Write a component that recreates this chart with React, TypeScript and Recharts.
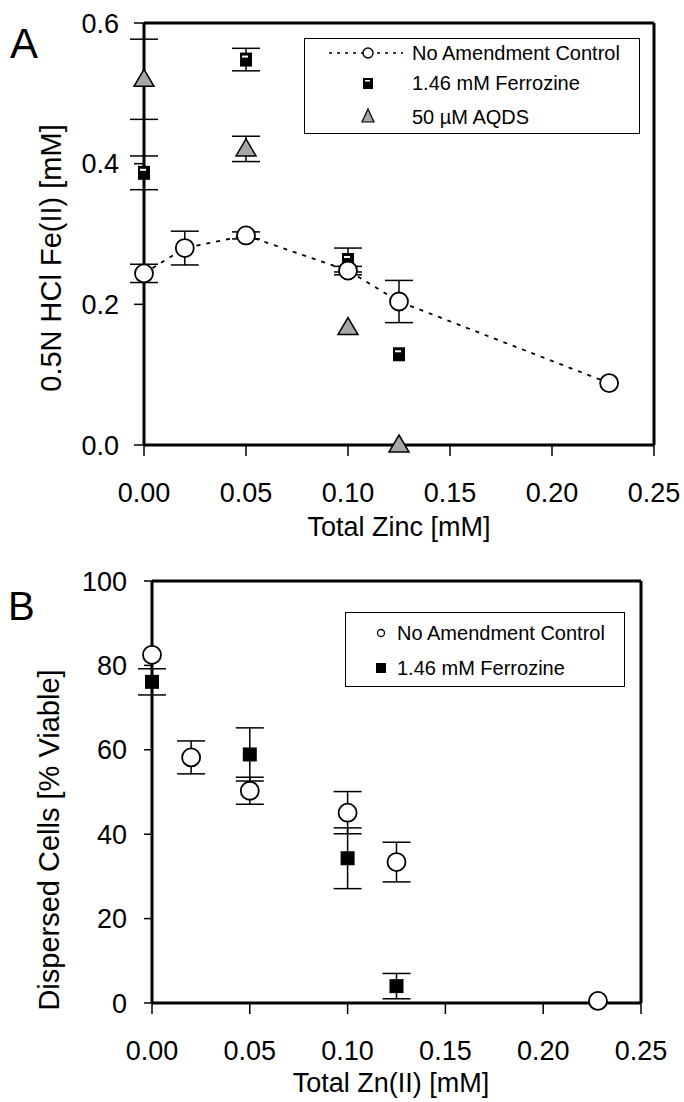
import { ScatterChart, Scatter, XAxis, YAxis, ErrorBar, ReferenceLine } from 'recharts';

// Panel A: 0.5N HCl extractable Fe(II) vs total zinc
const ctrlZnA = [0, 0.02, 0.05, 0.1, 0.125, 0.228];
const ctrlFeA = [0.244, 0.28, 0.298, 0.248, 0.204, 0.088];
const ctrlErrA = [0.013, 0.024, 0.005, 0.006, 0.03, 0];
const ferZnA = [0, 0.05, 0.1, 0.125];
const ferFeA = [0.387, 0.548, 0.263, 0.129];
const ferErrA = [0.024, 0.016, 0.017, 0];
const aqdsZnA = [0, 0.05, 0.1, 0.125];
const aqdsFeA = [0.52, 0.421, 0.167, 0.0];
const aqdsErrA = [0.057, 0.018, 0, 0];

// Panel B: dispersed cells (% viable) vs total Zn(II)
const ctrlZnB = [0, 0.02, 0.05, 0.1, 0.125, 0.228];
const ctrlPctB = [82.5, 58.2, 50.3, 45.1, 33.4, 0.5];
const ctrlErrB = [0, 3.9, 3.2, 5.0, 4.7, 0];
const ferZnB = [0, 0.05, 0.1, 0.125];
const ferPctB = [76.1, 58.9, 34.3, 4.0];
const ferErrB = [3.1, 6.3, 7.2, 3.0];

const xTicks = [0, 0.05, 0.1, 0.15, 0.2, 0.25];
const yTicksA = [0, 0.2, 0.4, 0.6];
const yTicksB = [0, 20, 40, 60, 80, 100];

const zip = (xs: number[], ys: number[], es: number[]) =>
  xs.map((x, i) => ({ x, y: ys[i], e: es[i] }));

const FONT = '"Liberation Sans", Arial, sans-serif';

const OpenCircle = (p: any) => (
  <circle cx={p.cx} cy={p.cy} r={9} fill="#fff" stroke="#000" strokeWidth={1.8} />
);

const StripedSquare = (p: any) => (
  <g>
    <rect x={p.cx - 6} y={p.cy - 7} width={12} height={14} fill="#000" />
    <rect x={p.cx - 4} y={p.cy - 4} width={6} height={2} fill="#fff" />
  </g>
);

const SolidSquare = (p: any) => (
  <rect x={p.cx - 7} y={p.cy - 7} width={14} height={14} fill="#000" />
);

const GreyTriangle = (p: any) => (
  <polygon
    points={`${p.cx},${p.cy - 10} ${p.cx + 10},${p.cy + 7} ${p.cx - 10},${p.cy + 7}`}
    fill="#a6a6a6"
    stroke="#000"
    strokeWidth={1.5}
  />
);

const axisLine = { stroke: '#000', strokeWidth: 3 };
const tickLine = { stroke: '#000', strokeWidth: 1.5 };
const tickStyle = { fill: '#000', fontSize: 27 };

const errProps = { stroke: '#000', strokeWidth: 1.5, width: 14, direction: 'y' as const };

const abs = (left: number, top: number, extra: any = {}) => ({
  position: 'absolute' as const,
  left,
  top,
  ...extra,
});

export default function App() {
  return (
    <div style={{ position: 'absolute', left: 0, top: 0, width: 684, height: 1102, background: '#fff', fontFamily: FONT, color: '#000' }}>
      {/* Panel A */}
      <div style={abs(0, 0)}>
        <ScatterChart width={684} height={560} margin={{ top: 23, right: 30, bottom: 55, left: 74 }}>
          <XAxis
            type="number"
            dataKey="x"
            domain={[0, 0.25]}
            ticks={xTicks}
            interval={0}
            tickFormatter={(v: number) => v.toFixed(2)}
            height={60}
            tickSize={11}
            tickMargin={27}
            axisLine={axisLine}
            tickLine={tickLine}
            tick={tickStyle}
          />
          <YAxis
            type="number"
            dataKey="y"
            domain={[0, 0.6]}
            ticks={yTicksA}
            interval={0}
            tickFormatter={(v: number) => v.toFixed(1)}
            width={70}
            tickSize={10}
            tickMargin={15}
            axisLine={axisLine}
            tickLine={tickLine}
            tick={tickStyle}
          />
          <ReferenceLine y={0.6} stroke="#000" strokeWidth={3} />
          <ReferenceLine x={0.25} stroke="#000" strokeWidth={3} />
          <Scatter data={zip(ferZnA, ferFeA, ferErrA)} shape={StripedSquare} isAnimationActive={false}>
            <ErrorBar dataKey="e" {...errProps} />
          </Scatter>
          <Scatter data={zip(aqdsZnA, aqdsFeA, aqdsErrA)} shape={GreyTriangle} isAnimationActive={false}>
            <ErrorBar dataKey="e" {...errProps} />
          </Scatter>
          <Scatter
            data={zip(ctrlZnA, ctrlFeA, ctrlErrA)}
            shape={OpenCircle}
            line={{ stroke: '#000', strokeWidth: 1.8, strokeDasharray: '4 6' }}
            lineType="joint"
            isAnimationActive={false}
          >
            <ErrorBar dataKey="e" {...errProps} />
          </Scatter>
        </ScatterChart>
      </div>

      {/* Panel A legend */}
      <div style={abs(304, 38, { width: 334, height: 94, border: '1.5px solid #000', background: '#fff' })} />
      <svg style={abs(304, 38)} width={337} height={97}>
        <line x1={25} y1={15} x2={99} y2={15} stroke="#000" strokeWidth={1.6} strokeDasharray="3 5" />
        <circle cx={64} cy={15} r={5} fill="#fff" stroke="#000" strokeWidth={1.4} />
        <rect x={59} y={40} width={10} height={11} fill="#000" />
        <rect x={61} y={42} width={5} height={1.5} fill="#fff" />
        <polygon points="64,71 70,84 58,84" fill="#a6a6a6" stroke="#000" strokeWidth={1.2} />
        <text x={108} y={22} fontSize={20}>No Amendment Control</text>
        <text x={108} y={52} fontSize={20}>1.46 mM Ferrozine</text>
        <text x={108} y={86} fontSize={20}>50 µM AQDS</text>
      </svg>

      {/* Panel B */}
      <div style={abs(0, 540)}>
        <ScatterChart width={684} height={560} margin={{ top: 41, right: 43, bottom: 37, left: 82 }}>
          <XAxis
            type="number"
            dataKey="x"
            domain={[0, 0.25]}
            ticks={xTicks}
            interval={0}
            tickFormatter={(v: number) => v.toFixed(2)}
            height={60}
            tickSize={11}
            tickMargin={27}
            axisLine={axisLine}
            tickLine={tickLine}
            tick={tickStyle}
          />
          <YAxis
            type="number"
            dataKey="y"
            domain={[0, 100]}
            ticks={yTicksB}
            interval={0}
            width={70}
            tickSize={8}
            tickMargin={17}
            axisLine={axisLine}
            tickLine={tickLine}
            tick={tickStyle}
          />
          <ReferenceLine y={100} stroke="#000" strokeWidth={3} />
          <ReferenceLine x={0.25} stroke="#000" strokeWidth={3} />
          <Scatter data={zip(ctrlZnB, ctrlPctB, ctrlErrB)} shape={OpenCircle} isAnimationActive={false}>
            <ErrorBar dataKey="e" {...errProps} />
          </Scatter>
          <Scatter data={zip(ferZnB, ferPctB, ferErrB)} shape={SolidSquare} isAnimationActive={false}>
            <ErrorBar dataKey="e" {...errProps} />
          </Scatter>
        </ScatterChart>
      </div>

      {/* Panel B legend */}
      <div style={abs(345, 612, { width: 278, height: 73, border: '1.5px solid #000', background: '#fff' })} />
      <svg style={abs(345, 612)} width={281} height={76}>
        <circle cx={36} cy={21} r={3.5} fill="#fff" stroke="#000" strokeWidth={1.3} />
        <rect x={31} y={51} width={10} height={10} fill="#000" />
        <text x={52} y={28} fontSize={20}>No Amendment Control</text>
        <text x={52} y={63} fontSize={20}>1.46 mM Ferrozine</text>
      </svg>

      {/* Axis titles and panel letters */}
      <div style={abs(0, 512, { width: 798, textAlign: 'center', fontSize: 27 })}>Total Zinc [mM]</div>
      <div style={abs(0, 1068, { width: 782, textAlign: 'center', fontSize: 27 })}>Total Zn(II) [mM]</div>
      <div style={abs(51, 258, { fontSize: 29, whiteSpace: 'nowrap', transform: 'translate(-50%, -50%) rotate(-90deg)' })}>
        0.5N HCl Fe(II) [mM]
      </div>
      <div style={abs(49, 840, { fontSize: 29, whiteSpace: 'nowrap', transform: 'translate(-50%, -50%) rotate(-90deg)' })}>
        Dispersed Cells [% Viable]
      </div>
      <div style={abs(10, 20, { fontSize: 42, lineHeight: '48px' })}>A</div>
      <div style={abs(8, 583, { fontSize: 40, lineHeight: '46px' })}>B</div>
    </div>
  );
}
